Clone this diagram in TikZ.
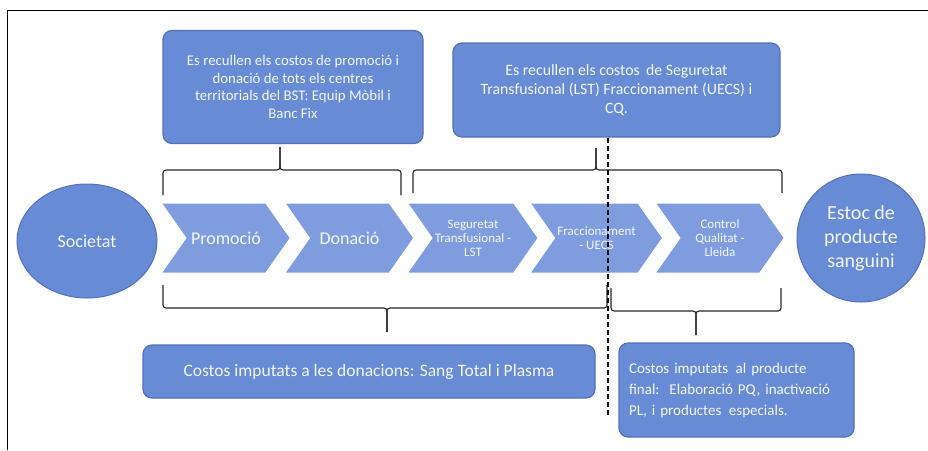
\documentclass[tikz,border=0pt]{standalone}
\usepackage{fontspec}
\setmainfont{Carlito}
\usetikzlibrary{shapes.symbols,shapes.geometric}

\definecolor{boxblue}{RGB}{104,139,214}
\definecolor{chevblue}{RGB}{126,156,222}
\definecolor{edgeblue}{RGB}{82,112,188}
\definecolor{txtwhite}{RGB}{243,246,252}

% bar brace: left x, right x, end y, bar y, tip x, tip y
\newcommand{\costbrace}[6]{%
  \draw[brace] (#1,#3) -- (#1,#4) -- (#5,#4) -- (#5,#6);
  \draw[brace] (#2,#3) -- (#2,#4) -- (#5,#4) -- (#5,#6);}

\begin{document}
\begin{tikzpicture}[x=1pt, y=-1pt,
  every node/.style={text=txtwhite, inner sep=2pt},
  costbox/.style={draw=edgeblue, line width=1.2pt, fill=boxblue, rounded corners=9pt, align=center},
  stage/.style={signal, signal to=east, signal from=west, signal pointer angle=110,
    fill=chevblue, minimum width=127pt, minimum height=69pt, align=center},
  endpoint/.style={ellipse, draw=edgeblue, line width=1pt, fill=boxblue, align=center},
  brace/.style={draw=black!85, line width=1.1pt, rounded corners=3pt}]
\useasboundingbox (0,0) rectangle (928,450);
\draw[line width=1pt] (7,450) |- (928,10);

% end points
\node[endpoint, minimum width=140pt, minimum height=114pt, font=\fontsize{18}{21}\selectfont] (soc) at (87,241) {Societat};
\node[endpoint, minimum width=128pt, minimum height=128pt, font=\fontsize{20}{24}\selectfont] (estoc) at (861,238) {Estoc de\\producte\\sanguini};

% stages
\node[stage, font=\fontsize{18}{21}\selectfont] (promo) at (226,238) {Promoció};
\node[stage, font=\fontsize{18}{21}\selectfont] (donacio) at (349.5,238) {Donació};
\node[stage, font=\fontsize{13}{14}\selectfont] (segur) at (473,238) {Seguretat\\Transfusional -\\LST};
\node[stage, font=\fontsize{13}{14}\selectfont] (fracc) at (596.5,238) {Fraccionament\\- UECS};
\node[stage, font=\fontsize{13}{14}\selectfont] (control) at (720,238) {Control\\Qualitat -\\Lleida};

% cost boxes
\node[costbox, minimum width=260pt, minimum height=113pt, font=\fontsize{14.8}{17.5}\selectfont] (collect1) at (293,87)
  {Es recullen els costos de promoció i\\donació de tots els centres\\territorials del BST: Equip Mòbil i\\Banc Fix};
\node[costbox, minimum width=327pt, minimum height=94pt, font=\fontsize{15.8}{19}\selectfont] (collect2) at (616.5,90)
  {Es recullen els costos\, de Seguretat\\Transfusional (LST) Fraccionament (UECS) i\\CQ.};
\node[costbox, minimum width=452pt, minimum height=53pt, font=\fontsize{17.5}{20}\selectfont] (donations) at (369,371.5)
  {Costos imputats a les donacions: Sang Total i Plasma};
\node[costbox, minimum width=235pt, minimum height=94pt, text width=215pt, align=left, font=\fontsize{15}{21}\selectfont] (final) at (736.5,390)
  {Costos imputats\, al producte\\final:\, Elaboració PQ, inactivació\\PL, i productes\, especials.};

% braces
\costbrace{163}{401}{195}{170}{280}{147}
\costbrace{413}{782}{193}{170}{596}{148}
\costbrace{163}{607}{285}{308}{387}{332}
\costbrace{611}{781}{288}{311}{696}{335}

% split between donation and product costs
\coordinate (cutend) at (608,415);
\draw[line width=1.2pt, dash pattern=on 5pt off 3pt] (collect2.south -| cutend) -- (cutend);
\end{tikzpicture}
\end{document}
